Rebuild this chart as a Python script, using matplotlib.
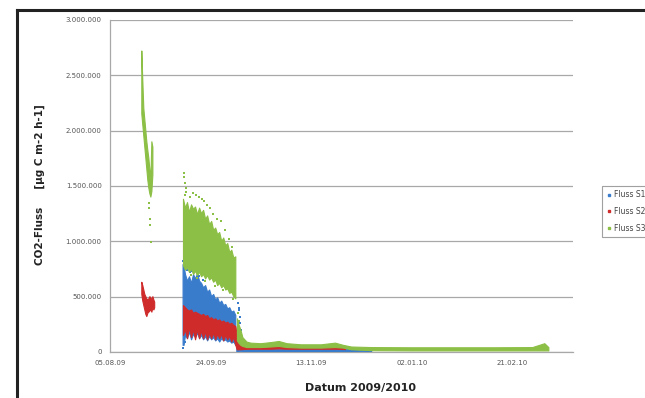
import numpy as np
import pandas as pd
import matplotlib
matplotlib.use('Agg')
import matplotlib.pyplot as plt
import matplotlib.dates as mdates
from matplotlib.lines import Line2D

# --- data (days after 05.08.09, values in ug C m-2 h-1) ---
start = pd.Timestamp('2009-08-05')
tick_days = [0, 50, 100, 150, 200]
y_ticks = [0, 500000, 1000000, 1500000, 2000000, 2500000, 3000000]

# Fluss S1 (blue): band low / high, NaN separates clusters
s1_day = [36.3, 36.8, 37.5, 38.5, 39.5, 40.5, 41.5, 42.5, 43.5, 44.5, 45.5, 46.5, 47.5,
          48.5, 49.5, 50.5, 51.5, 52.5, 53.5, 54.5, 55.5, 56.5, 57.5, 58.5, 59.5, 60.5,
          61.5, 62.5,
          62.8, 63, 64, 65, 66, 70, 80, 90, 100, 110, 116, 125, 130]
s1_lo = [60000, 60000, 150000, 120000, 180000, 110000, 160000, 130000, 170000, 120000,
         150000, 110000, 140000, 100000, 140000, 110000, 130000, 100000, 120000, 90000,
         120000, 100000, 110000, 90000, 100000, 80000, 90000, 60000,
         np.nan, 0, 0, 2000, 4000, 5000, 5000, 5000, 5000, 5000, 5000, 3000, 3000]
s1_hi = [790000, 780000, 700000, 640000, 680000, 620000, 700000, 660000, 710000, 640000,
         620000, 580000, 600000, 540000, 560000, 500000, 520000, 470000, 490000, 440000,
         460000, 420000, 430000, 390000, 400000, 360000, 370000, 330000,
         np.nan, 120000, 90000, 50000, 30000, 25000, 25000, 25000, 25000, 25000, 25000,
         15000, 12000]
s1_pts_day = [36.4, 36.6, 37.0, 38.2, 39.8, 40.5, 42.0, 44.0, 46.0, 63.6, 64.0, 64.4,
              64.8, 65.2, 63.9, 36.5, 37.2]
s1_pts_val = [820000, 750000, 770000, 740000, 720000, 730000, 740000, 690000, 650000,
              440000, 380000, 320000, 260000, 200000, 400000, 40000, 90000]

# Fluss S2 (red)
s2_day = [15.8, 16.3, 16.8, 17.3, 17.8, 18.3, 18.8, 19.3, 19.8, 20.3, 20.8, 21.3, 21.8, 22.2,
          22.5,
          36.5, 37.5, 38.5, 39.5, 40.5, 41.5, 42.5, 43.5, 44.5, 45.5, 46.5, 47.5, 48.5,
          49.5, 50.5, 51.5, 52.5, 53.5, 54.5, 55.5, 56.5, 57.5, 58.5, 59.5, 60.5, 61.5,
          62.5, 63.2, 64, 65, 66, 70, 75, 80, 84, 88, 95, 105, 112, 117]
s2_lo = [520000, 460000, 420000, 380000, 340000, 320000, 350000, 360000, 370000, 380000,
         360000, 400000, 380000, 400000, np.nan,
         150000, 200000, 120000, 220000, 130000, 200000, 110000, 200000, 120000, 190000,
         120000, 180000, 110000, 170000, 120000, 170000, 110000, 160000, 120000, 160000,
         100000, 150000, 110000, 140000, 90000, 130000, 60000, 20000, 20000, 20000,
         22000, 25000, 25000, 25000, 28000, 25000, 25000, 25000, 25000, 22000]
s2_hi = [630000, 600000, 560000, 520000, 500000, 480000, 470000, 480000, 500000, 490000,
         470000, 500000, 470000, 450000, np.nan,
         420000, 400000, 380000, 370000, 380000, 350000, 360000, 350000, 340000, 330000,
         340000, 320000, 330000, 300000, 310000, 290000, 300000, 280000, 290000, 270000,
         280000, 260000, 270000, 250000, 260000, 240000, 230000, 150000, 100000, 70000,
         50000, 45000, 42000, 48000, 55000, 45000, 42000, 42000, 45000, 35000]

# Fluss S3 (green)
s3_day = [15.8, 16.3, 16.8, 17.3, 17.8, 18.3, 18.8, 19.3, 19.8, 20.3, 20.8, 21.3, 21.6,
          36.5, 37.5, 38.5, 39.5, 40.5, 41.5, 42.5, 43.5, 44.5, 45.5, 46.5, 47.5, 48.5,
          49.5, 50.5, 51.5, 52.5, 53.5, 54.5, 55.5, 56.5, 57.5, 58.5, 59.5, 60.5, 61.5,
          62.5, 62.9,
          63.3, 64, 65, 66, 68, 70, 75, 80, 84, 88, 95, 105, 112, 116, 120, 130, 150,
          170, 190, 210, 216, 218]
s3_lo = [2150000, 2050000, 1950000, 1850000, 1750000, 1650000, 1550000, 1480000, 1430000,
         1400000, 1450000, 1600000, np.nan,
         780000, 740000, 760000, 720000, 750000, 700000, 730000, 690000, 720000, 680000,
         700000, 660000, 690000, 650000, 670000, 630000, 650000, 600000, 620000, 580000,
         600000, 560000, 570000, 530000, 540000, 500000, 480000, np.nan,
         100000, 80000, 60000, 50000, 40000, 40000, 40000, 45000, 50000, 40000, 35000,
         35000, 40000, 35000, 20000, 12000, 10000, 10000, 10000, 10000, 10000, 10000]
s3_hi = [2720000, 2450000, 2200000, 2100000, 2000000, 1900000, 1820000, 1750000, 1650000,
         1560000, 1900000, 1850000, np.nan,
         1380000, 1300000, 1350000, 1260000, 1330000, 1290000, 1310000, 1240000, 1300000,
         1250000, 1280000, 1200000, 1230000, 1150000, 1180000, 1100000, 1120000, 1060000,
         1080000, 1000000, 1030000, 960000, 980000, 900000, 920000, 850000, 860000, np.nan,
         300000, 250000, 200000, 130000, 90000, 80000, 75000, 85000, 95000, 75000, 65000,
         65000, 80000, 60000, 45000, 40000, 38000, 38000, 38000, 40000, 75000, 40000]
s3_pts_day = [19.2, 19.5, 19.8, 20.0, 20.2, 36.8, 37.0, 37.3, 37.6, 38.0, 37.2, 39.5, 41.0,
              42.5, 44.0, 45.5, 46.5, 48, 49.5, 51, 53, 55, 57, 59, 60.5, 63.8, 64.3,
              40.0, 43.0, 47.0, 52.0, 56.0, 61.0]
s3_pts_val = [1350000, 1300000, 1200000, 1150000, 990000, 1620000, 1580000, 1530000,
              1480000, 1450000, 1420000, 1400000, 1440000, 1420000, 1400000, 1380000,
              1360000, 1330000, 1300000, 1250000, 1200000, 1180000, 1100000, 1020000,
              950000, 350000, 280000, 700000, 670000, 640000, 600000, 560000, 480000]

labels = ['Fluss S1', 'Fluss S2', 'Fluss S3']
colors = ['#3a7ccc', '#cf2b2b', '#8cbf45']


def to_dates(days):
    return start + pd.to_timedelta(np.asarray(days, dtype=float), unit='D')


def de_format(v, pos=None):
    # German thousands separator
    return f'{int(round(v)):,}'.replace(',', '.')


fig = plt.figure(figsize=(6.45, 3.98), dpi=100)
ax = fig.add_axes([110 / 645, 46 / 398, 463 / 645, 332 / 398])

series = [
    (s1_day, s1_lo, s1_hi, s1_pts_day, s1_pts_val),
    (s2_day, s2_lo, s2_hi, None, None),
    (s3_day, s3_lo, s3_hi, s3_pts_day, s3_pts_val),
]
for (day, lo, hi, pday, pval), lab, col in zip(series, labels, colors):
    x = to_dates(day)
    ax.fill_between(x, lo, hi, color=col, linewidth=0.8, edgecolor=col, zorder=3)
    if pday is not None:
        ax.scatter(to_dates(pday), pval, s=3, color=col, marker='s', linewidths=0, zorder=3)
    # legend proxy
    ax.plot([], [], linestyle='none', marker='s', markersize=2, color=col, label=lab)

# axes styling
ax.set_xlim(start, start + pd.Timedelta(days=230))
ax.set_ylim(0, 3000000)
ax.set_yticks(y_ticks)
ax.yaxis.set_major_formatter(plt.FuncFormatter(de_format))
ax.set_xticks(to_dates(tick_days))
ax.xaxis.set_major_formatter(mdates.DateFormatter('%d.%m.%y'))
ax.tick_params(axis='both', labelsize=5, colors='#555555', length=0, pad=6)
ax.grid(axis='y', color='#a8a8a8', linewidth=0.9, zorder=0)
for side in ['top', 'right']:
    ax.spines[side].set_visible(False)
for side in ['left', 'bottom']:
    ax.spines[side].set_color('#a8a8a8')
    ax.spines[side].set_linewidth(0.9)

fig.text(40 / 645, 1 - 185 / 398, 'CO2-Fluss     [µg C m-2 h-1]', rotation=90,
         ha='center', va='center', fontsize=7.5, fontweight='bold', color='#222222')
fig.text(361 / 645, 1 - 388 / 398, 'Datum 2009/2010', ha='center', va='center',
         fontsize=8, fontweight='bold', color='#222222')

leg = fig.legend(loc='upper left', bbox_to_anchor=(598 / 645, 1 - 182 / 398),
                 fontsize=5.5, frameon=True, fancybox=False, handlelength=0.6,
                 handletextpad=0.4, borderpad=0.6, labelspacing=1.0)
leg.get_frame().set_edgecolor('#888888')
leg.get_frame().set_linewidth(0.8)
for t in leg.get_texts():
    t.set_color('#444444')

# outer chart frame (top and left edges)
fig.add_artist(Line2D([17 / 645, 17 / 645], [0, 1 - 10 / 398], color='#222222', linewidth=2.2))
fig.add_artist(Line2D([17 / 645, 1], [1 - 10 / 398, 1 - 10 / 398], color='#222222', linewidth=2.2))

plt.savefig('out.png', dpi=100)
plt.close()
